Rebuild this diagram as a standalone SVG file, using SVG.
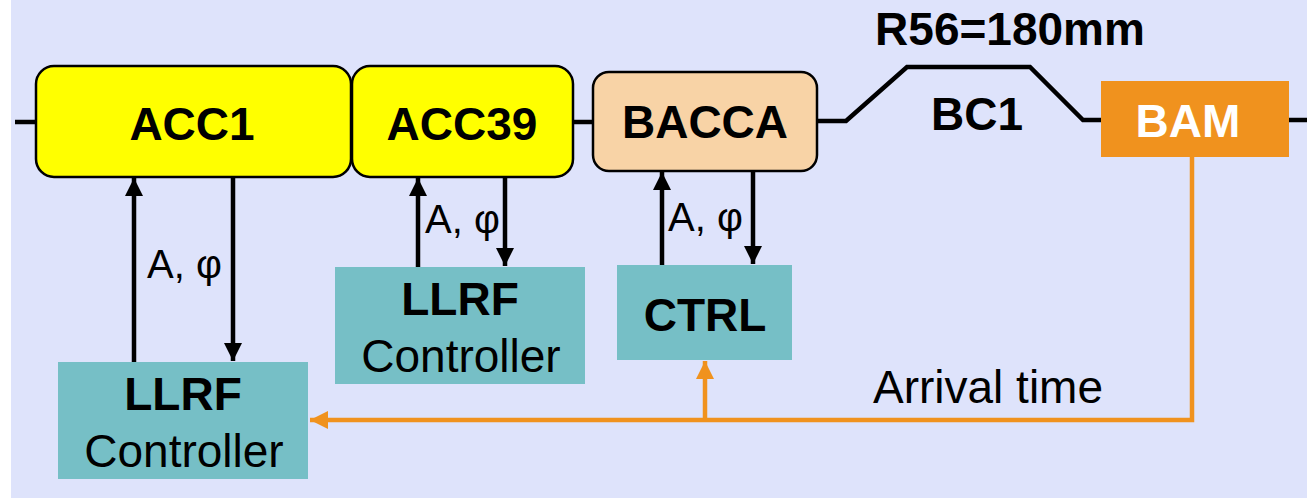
<svg xmlns="http://www.w3.org/2000/svg" width="1307" height="498" viewBox="0 0 1307 498">
<style>
.b{font-family:"Liberation Sans",Arial,sans-serif;font-weight:bold;font-size:46px;text-anchor:middle;fill:#000}
.r{font-family:"Liberation Sans",Arial,sans-serif;font-size:46px;text-anchor:middle;fill:#000}
.ap{font-family:"Liberation Sans",Arial,sans-serif;font-size:40px;fill:#000}
.acc{fill:#FFFF00;stroke:#000;stroke-width:2.5}
.teal{fill:#76BFC6}
.bk{stroke:#000;stroke-width:4.5;fill:none}
.or{stroke:#F0921E;stroke-width:4.5;fill:none}
</style>
<defs>
<marker id="ah" markerWidth="4" markerHeight="4" refX="4" refY="2" orient="auto" markerUnits="strokeWidth" viewBox="0 0 4 4"><path d="M0,0 L4,2 L0,4 z" fill="#000"/></marker>
<marker id="aho" markerWidth="4" markerHeight="4" refX="4" refY="2" orient="auto" markerUnits="strokeWidth" viewBox="0 0 4 4"><path d="M0,0 L4,2 L0,4 z" fill="#F0921E"/></marker>
</defs>
<rect x="0" y="0" width="1307" height="498" fill="#fff"/>
<rect x="11" y="0" width="1296" height="498" fill="#DEE3FB"/>
<g id="connectors">
<path class="bk" d="M15,122 H36"/>
<path class="bk" d="M573,122 H593"/>
<path class="bk" d="M817,121 H846 L907,67 H1030 L1083,120 H1102"/>
<path class="bk" d="M1289,120 H1307"/>
<path class="bk" d="M134,362 V178" marker-end="url(#ah)"/>
<path class="bk" d="M233,177 V361" marker-end="url(#ah)"/>
<path class="bk" d="M418,267 V178" marker-end="url(#ah)"/>
<path class="bk" d="M505,177 V266" marker-end="url(#ah)"/>
<path class="bk" d="M662,265 V172" marker-end="url(#ah)"/>
<path class="bk" d="M753,171 V264" marker-end="url(#ah)"/>
<path class="or" d="M1192,157 V420 H310" marker-end="url(#aho)"/>
<path class="or" d="M705,420 V361" marker-end="url(#aho)"/>
<text class="ap" x="147" y="278">A, φ</text>
<text class="ap" x="425" y="233">A, φ</text>
<text class="ap" x="668" y="231">A, φ</text>
<text class="r" x="988" y="403">Arrival time</text>
</g>
<g id="acc1"><rect class="acc" x="36" y="66" width="315" height="111" rx="18"/><text class="b" x="192" y="140">ACC1</text></g>
<g id="acc39"><rect class="acc" x="352" y="66" width="221" height="111" rx="18"/><text class="b" x="462" y="140">ACC39</text></g>
<g id="bacca"><rect x="593" y="72" width="224" height="99" rx="16" fill="#F8D3A6" stroke="#000" stroke-width="2.5"/><text class="b" x="705" y="138">BACCA</text></g>
<g id="bc1"><text class="b" x="1010" y="45">R56=180mm</text><text class="b" x="977" y="130">BC1</text></g>
<g id="bam"><rect x="1101" y="81" width="188" height="76" fill="#F0921E"/><text class="b" x="1188" y="137" fill="#fff" style="fill:#fff">BAM</text></g>
<g id="llrf1"><rect class="teal" x="58" y="362" width="250" height="117"/><text class="b" x="183" y="410">LLRF</text><text class="r" x="184" y="467">Controller</text></g>
<g id="llrf2"><rect class="teal" x="335" y="267" width="250" height="117"/><text class="b" x="460" y="315">LLRF</text><text class="r" x="461" y="372">Controller</text></g>
<g id="ctrl"><rect class="teal" x="617" y="265" width="175" height="95"/><text class="b" x="705" y="331">CTRL</text></g>
</svg>
